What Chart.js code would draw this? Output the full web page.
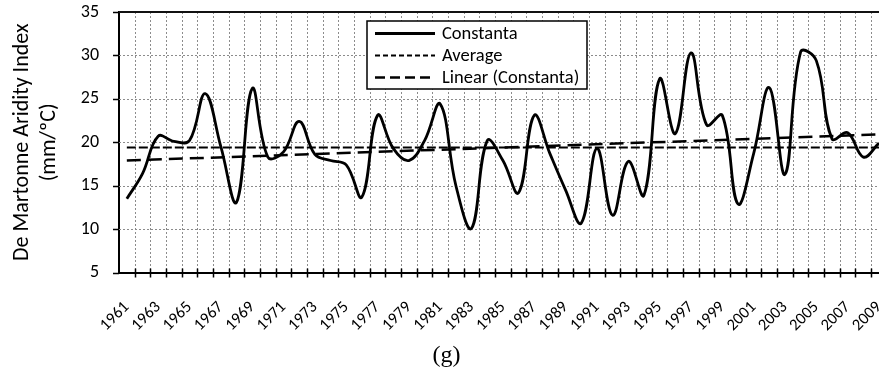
<!DOCTYPE html>
<html>
<head>
<meta charset="utf-8">
<script src="https://cdn.jsdelivr.net/npm/chart.js@4"></script>
<style>
  html, body { margin: 0; padding: 0; background: #fff; overflow: hidden; }
  #wrap { width: 893px; height: 371px; position: relative; }
</style>
</head>
<body>
<div id="wrap"><canvas id="aridityChart"></canvas></div>
<script>
// De Martonne aridity index, Constanta station, 1961-2009
const years = [
    "1961", "1962", "1963", "1964", "1965", "1966", "1967", "1968", "1969", "1970",
    "1971", "1972", "1973", "1974", "1975", "1976", "1977", "1978", "1979", "1980",
    "1981", "1982", "1983", "1984", "1985", "1986", "1987", "1988", "1989", "1990",
    "1991", "1992", "1993", "1994", "1995", "1996", "1997", "1998", "1999", "2000",
    "2001", "2002", "2003", "2004", "2005", "2006", "2007", "2008", "2009"
];
const constanta = [
    13.5, 16.4, 20.7, 20.1, 20.2, 25.6, 19.5, 13.1, 26.2, 18.3,
    18.9, 22.4, 18.6, 17.9, 17.4, 13.7, 23.1, 19.3, 17.9, 20.2,
    24.4, 15.0, 10.1, 20.2, 17.9, 14.2, 23.1, 18.7, 14.5, 10.7,
    19.3, 11.6, 17.8, 13.9, 27.3, 21.0, 30.3, 22.0, 23.1, 12.9,
    18.7, 26.3, 16.3, 30.4, 29.4, 20.4, 21.1, 18.3, 19.9
];
const averageValue = 19.4;
const trendStart = 17.9;   // linear fit at 1961
const trendEnd = 20.9;     // linear fit at 2009
const yTicks = [5, 10, 15, 20, 25, 30, 35];

// straight segments only need their two end points; the rest stay empty
function endPoints(first, last) {
    const arr = years.map(() => null);
    arr[0] = first;
    arr[arr.length - 1] = last;
    return arr;
}

const FONT = "Carlito, Lato, sans-serif";
const GRID = "#8c8c8c";

// dotted grid between categories and at every y tick, plus the tick marks
const gridLines = {
    id: "gridLines",
    beforeDatasetsDraw(chart) {
        const { ctx, chartArea: a } = chart;
        const xs = chart.scales.x, ys = chart.scales.y;
        const half = (xs.getPixelForValue(1) - xs.getPixelForValue(0)) / 2;
        ctx.save();
        ctx.strokeStyle = GRID;
        ctx.lineWidth = 1;
        ctx.setLineDash([2, 2]);
        ctx.beginPath();
        for (let i = 0; i < years.length - 1; i++) {
            const px = Math.round(xs.getPixelForValue(i) + half) + 0.5;
            ctx.moveTo(px, a.top);
            ctx.lineTo(px, a.bottom);
        }
        yTicks.slice(1, -1).forEach(v => {
            const py = Math.round(ys.getPixelForValue(v)) + 0.5;
            ctx.moveTo(a.left, py);
            ctx.lineTo(a.right, py);
        });
        ctx.stroke();
        ctx.setLineDash([]);
        ctx.strokeStyle = "#000";
        ctx.lineWidth = 1.5;
        ctx.beginPath();
        yTicks.forEach(v => {
            const py = Math.round(ys.getPixelForValue(v)) + 0.5;
            ctx.moveTo(a.left - 6, py);
            ctx.lineTo(a.left, py);
        });
        for (let i = 0; i < years.length; i++) {
            const px = Math.round(xs.getPixelForValue(i) + half) + 0.5;
            ctx.moveTo(px, a.bottom - 4);
            ctx.lineTo(px, a.bottom + 5);
        }
        ctx.stroke();
        ctx.restore();
    }
};

// legend drawn as a framed box inside the plot
const legendBox = {
    id: "legendBox",
    afterDatasetsDraw(chart) {
        const ctx = chart.ctx;
        const x = 367, y = 21, w = 220, h = 68;
        const samples = [[], [5, 3], [10, 5]];
        ctx.save();
        ctx.fillStyle = "#fff";
        ctx.fillRect(x, y, w, h);
        ctx.strokeStyle = "#000";
        ctx.lineWidth = 1.5;
        ctx.strokeRect(x, y, w, h);
        ctx.font = "18.5px " + FONT;
        ctx.textBaseline = "middle";
        ctx.fillStyle = "#000";
        chart.data.datasets.forEach((ds, i) => {
            const cy = y + 12.5 + i * 22;
            ctx.beginPath();
            ctx.setLineDash(samples[i]);
            ctx.lineWidth = ds.borderWidth;
            ctx.moveTo(x + 8, cy);
            ctx.lineTo(x + 68, cy);
            ctx.stroke();
            ctx.setLineDash([]);
            ctx.fillText(ds.label, x + 75, cy + 1);
        });
        ctx.restore();
    }
};

// top edge of the plot frame
const frame = {
    id: "frame",
    afterDraw(chart) {
        const { ctx, chartArea } = chart;
        ctx.save();
        ctx.strokeStyle = "#111";
        ctx.lineWidth = 2;
        ctx.beginPath();
        ctx.moveTo(chartArea.left, chartArea.top);
        ctx.lineTo(chartArea.right, chartArea.top);
        ctx.stroke();
        ctx.restore();
    }
};

new Chart(document.getElementById("aridityChart"), {
    type: "line",
    data: {
        labels: years,
        datasets: [
            {
                label: "Constanta",
                data: constanta,
                borderColor: "#000",
                borderWidth: 2.8,
                tension: 0.4,
                pointRadius: 0,
                fill: false
            },
            {
                label: "Average",
                data: endPoints(averageValue, averageValue),
                borderColor: "#000",
                borderWidth: 2,
                borderDash: [9, 3],
                pointRadius: 0,
                spanGaps: true,
                fill: false
            },
            {
                label: "Linear (Constanta)",
                data: endPoints(trendStart, trendEnd),
                borderColor: "#000",
                borderWidth: 2.5,
                borderDash: [14, 7],
                pointRadius: 0,
                spanGaps: true,
                fill: false
            }
        ]
    },
    options: {
        responsive: true,
        maintainAspectRatio: false,
        animation: false,
        layout: { padding: { top: 12, left: 0, right: 0, bottom: 0 } },
        plugins: {
            legend: { display: false },
            tooltip: { enabled: false },
            title: {
                display: true,
                text: "(g)",
                position: "bottom",
                color: "#000",
                font: { family: "'Liberation Serif', serif", size: 24, weight: "normal", lineHeight: 1.1 },
                padding: { top: 0, bottom: 2 }
            }
        },
        scales: {
            x: {
                offset: true,
                afterFit: (scale) => { scale.height = 70; },
                // tick marks are drawn by the gridLines plugin; tickLength only spaces the labels
                grid: { display: false, drawTicks: true, tickLength: 25 },
                border: { color: "#000", width: 2 },
                ticks: {
                    autoSkip: false,
                    maxRotation: 45,
                    minRotation: 45,
                    padding: 0,
                    color: "#000",
                    font: { family: FONT, size: 16.5 },
                    callback: (v, i) => (i % 2 === 0 ? years[i] : "")
                }
            },
            y: {
                min: 5,
                max: 35,
                afterFit: (scale) => { scale.width = 119; },
                afterBuildTicks: (scale) => { scale.ticks = yTicks.map(v => ({ value: v })); },
                grid: { display: false, drawTicks: true, tickLength: 20 },
                border: { color: "#000", width: 2 },
                ticks: {
                    padding: 0,
                    color: "#000",
                    font: { family: FONT, size: 18 }
                },
                title: {
                    display: true,
                    text: ["De Martonne Aridity Index", "(mm/\u00BAC)"],
                    color: "#000",
                    font: { family: FONT, size: 22, lineHeight: 1.23 },
                    padding: { top: 8.5, bottom: 0 }
                }
            }
        }
    },
    plugins: [gridLines, legendBox, frame]
});
</script>
</body>
</html>
